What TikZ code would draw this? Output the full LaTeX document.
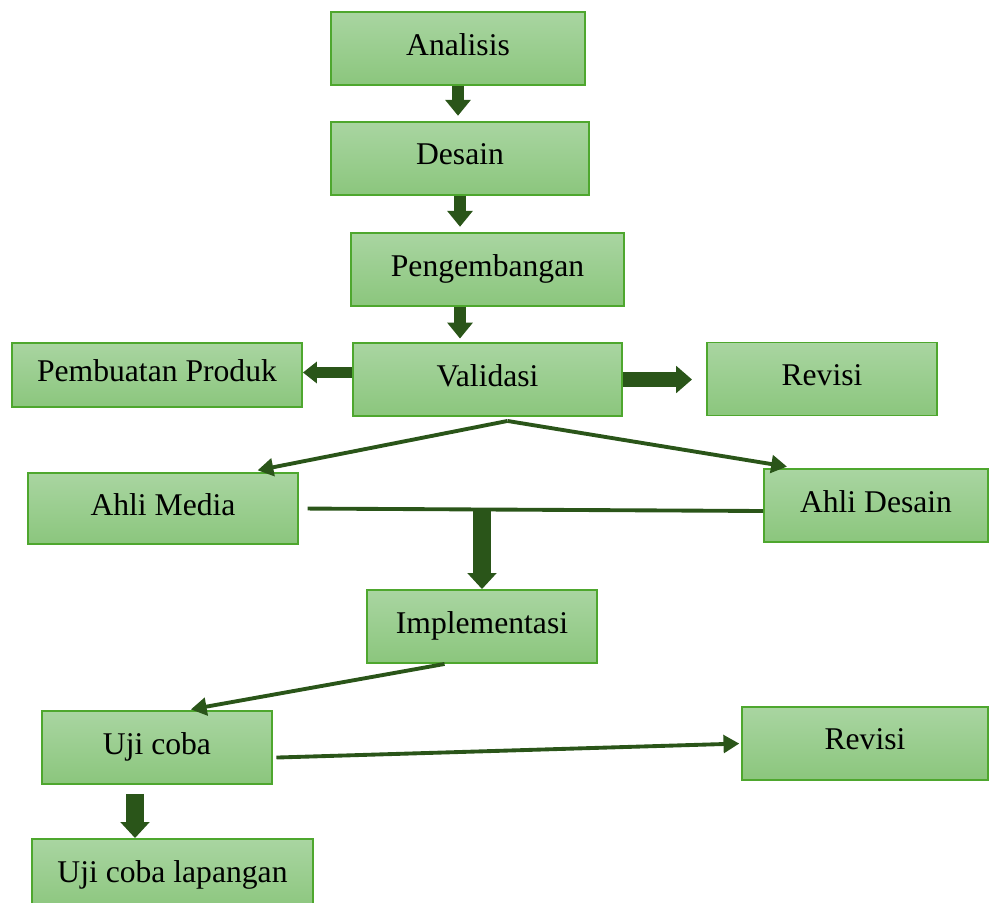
\documentclass[tikz,border=0pt]{standalone}
\usepackage{fontspec}
\setmainfont{Liberation Serif}
\usetikzlibrary{arrows.meta}
\definecolor{boxline}{HTML}{4EA72E}
\definecolor{boxtop}{HTML}{A9D5A1}
\definecolor{boxbot}{HTML}{8BC67D}
\definecolor{arrowgreen}{HTML}{2A5519}
\begin{document}
\begin{tikzpicture}[x=0.02cm,y=-0.02cm,
  box/.style={draw=boxline,line width=1.1pt,top color=boxtop,bottom color=boxbot,
    minimum height=1.46cm,inner sep=0pt,text depth=5pt,font=\fontsize{18}{21}\selectfont},
  fat/.style={draw=arrowgreen,line width=6.8pt,-{Triangle[width=14pt,length=9pt]}},
  thin/.style={draw=arrowgreen,line width=2.2pt,-{Triangle[width=10pt,length=9pt]}}]
\useasboundingbox (0,0) rectangle (989,902);
% main column
\node[box,minimum width=5.08cm] (analisis) at (458,48.5) {Analisis};
\node[box,minimum width=5.16cm] (desain) at (460,158.5) {Desain};
\node[box,minimum width=5.46cm] (pengembangan) at (487.5,269.5) {Pengembangan};
\node[box,minimum width=5.38cm] (validasi) at (487.5,379.5) {Validasi};
\node[box,minimum width=5.8cm,minimum height=1.28cm] (produk) at (157,375) {Pembuatan Produk};
\node[box,minimum width=4.6cm] (revisi) at (822,379) {Revisi};
% validasi
\node[box,minimum width=5.4cm,minimum height=1.42cm] (media) at (163,508.5) {Ahli Media};
\node[box,minimum width=4.48cm] (ahlidesain) at (876,505.5) {Ahli Desain};
\node[box,minimum width=4.6cm] (implementasi) at (482,626.5) {Implementasi};
% uji coba
\node[box,minimum width=4.6cm] (ujicoba) at (157,747.5) {Uji coba};
\node[box,minimum width=4.92cm] (revisib) at (865,743.5) {Revisi};
\node[box,minimum width=5.62cm] (lapangan) at (172.5,875.5) {Uji coba lapangan};
\draw[fat,shorten >=3pt] (analisis.south) -- (analisis.south |- desain.north);
\draw[fat,shorten >=3pt] (desain.south) -- (desain.south |- pengembangan.north);
\draw[fat,shorten >=2pt] (desain.south |- pengembangan.south) -- (desain.south |- validasi.north);
\draw[fat,line width=6pt,-{Triangle[width=12pt,length=8pt]}] ([yshift=0.14cm]validasi.west) -- ([yshift=0.14cm]validasi.west -| produk.east);
\draw[fat,line width=8.5pt,-{Triangle[width=15pt,length=9pt]},shorten >=8pt] (validasi.east) -- (validasi.east -| revisi.west);
\draw[thin,shorten >=5pt] ([xshift=0.4cm,yshift=-0.08cm]validasi.south) -- (media.23);
\draw[thin,shorten >=5pt] ([xshift=0.4cm,yshift=-0.08cm]validasi.south) -- (ahlidesain.155);
\draw[draw=arrowgreen,line width=2.2pt,shorten <=5pt] (media.east) -- ([yshift=-0.11cm]ahlidesain.west);
\draw[fat,line width=10pt,-{Triangle[width=16pt,length=9pt]}] (implementasi.north |- media.east) -- (implementasi.north);
\draw[thin,shorten >=2pt] (implementasi.225) -- (ujicoba.51);
\draw[thin,shorten <=2pt,shorten >=1pt] (ujicoba.-5) -- (revisib.west);
\draw[fat,line width=10pt,-{Triangle[width=16pt,length=9pt]},shorten <=5pt] ([xshift=-0.44cm]ujicoba.south) -- ([xshift=-0.44cm]ujicoba.south |- lapangan.north);
\end{tikzpicture}
\end{document}
